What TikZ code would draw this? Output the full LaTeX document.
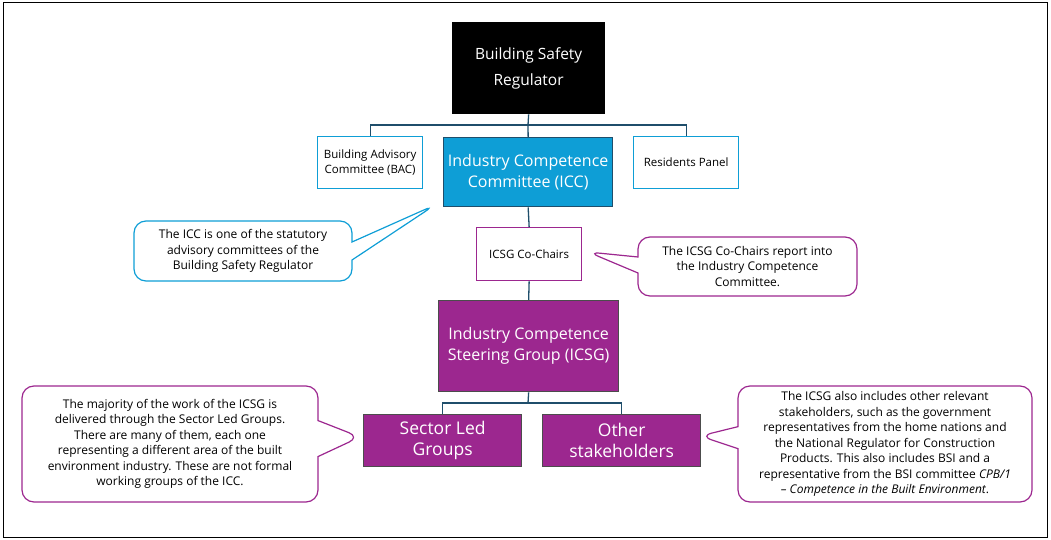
\documentclass[tikz,border=0pt]{standalone}
\usepackage{fontspec}
\setmainfont{Open Sans}
\usetikzlibrary{shapes.callouts}
\definecolor{icc}{HTML}{0E9ED6}
\definecolor{pur}{HTML}{9C278F}
\definecolor{ln}{HTML}{1F4E6B}
\begin{document}
\begin{tikzpicture}[x=1pt,y=-1pt,
 box/.style={draw, line width=1.3pt, align=center, inner sep=0pt, anchor=north west},
 call/.style={rectangle callout, rounded corners=12pt, draw, line width=1.2pt, align=center, anchor=center, font=\fontsize{12}{15.5}\selectfont, inner sep=0pt},
 con/.style={draw=ln, line width=1.3pt}]
\useasboundingbox (0,0) rectangle (1051,540);
\draw[line width=1pt] (3,3) rectangle (1047,537);
\coordinate (j1) at (528,125);
\coordinate (j2) at (528,403);
\node[box, fill=black, text=white, minimum width=152pt, minimum height=91pt, font=\fontsize{15.5}{26}\selectfont] (bsr) at (452,22) {Building Safety\\Regulator};
\node[box, draw=icc, minimum width=105pt, minimum height=52pt, font=\fontsize{11.5}{15}\selectfont] (bac) at (317,136) {Building Advisory\\Committee (BAC)};
\node[box, draw=ln, fill=icc, text=white, minimum width=169pt, minimum height=69pt, font=\fontsize{16}{21}\selectfont] (icc) at (443,137) {Industry Competence\\Committee (ICC)};
\node[box, draw=icc, minimum width=105pt, minimum height=52pt, font=\fontsize{11.5}{15}\selectfont] (res) at (633,136) {Residents Panel};
\node[box, draw=pur, fill=white, minimum width=105pt, minimum height=53pt, font=\fontsize{11.5}{15}\selectfont] (co) at (476,227) {ICSG Co-Chairs};
\node[box, draw=black!70, fill=pur, text=white, minimum width=180pt, minimum height=91pt, font=\fontsize{16}{21}\selectfont] (icsg) at (438,300) {Industry Competence\\Steering Group (ICSG)};
\node[box, draw=black!70, fill=pur, text=white, minimum width=158pt, minimum height=52pt, font=\fontsize{17.5}{21}\selectfont] (slg) at (363,414) {Sector Led\\Groups};
\node[box, draw=black!70, fill=pur, text=white, minimum width=158pt, minimum height=52pt, font=\fontsize{17.5}{21}\selectfont] (oth) at (542,414) {Other\\stakeholders};
\draw[con] (bsr.south) -- (j1);
\draw[con] (bac.north) |- (j1) -| (res.north);
\draw[con] (j1) -- (icc.north);
\draw[con] (icc.south) -- (co.north);
\draw[con] (co.south) -- (icsg.north);
\draw[con] (icsg.south) -- (j2);
\draw[con] (slg.north) |- (j2) -| (oth.north);
\coordinate (p1) at (435,205);
\coordinate (p2) at (588,252);
\coordinate (p3) at (360,437);
\coordinate (p4) at (700,436);
\node[call, draw=icc, minimum width=218pt, minimum height=60pt, callout absolute pointer={(p1)}, callout pointer width=18pt] (c1) at (243,251) {The ICC is one of the statutory\\advisory committees of the\\Building Safety Regulator};
\node[call, draw=pur, minimum width=219pt, minimum height=59pt, callout absolute pointer={(p2)}, callout pointer width=16pt] (c2) at (747.5,266.5) {The ICSG Co-Chairs report into\\the Industry Competence\\Committee.};
\node[call, draw=pur, minimum width=296pt, minimum height=116pt, callout absolute pointer={(p3)}, callout pointer width=36pt] (c3) at (170,444) {The majority of the work of the ICSG is\\delivered through the Sector Led Groups.\\There are many of them, each one\\representing a different area of the built\\environment industry. These are not formal\\working groups of the ICC.};
\node[call, draw=pur, minimum width=294pt, minimum height=116pt, callout absolute pointer={(p4)}, callout pointer width=22pt] (c4) at (885,444) {The ICSG also includes other relevant\\stakeholders, such as the government\\representatives from the home nations and\\the National Regulator for Construction\\Products. This also includes BSI and a\\representative from the BSI committee \textit{CPB/1}\\\textit{– Competence in the Built Environment}.};
\end{tikzpicture}
\end{document}
